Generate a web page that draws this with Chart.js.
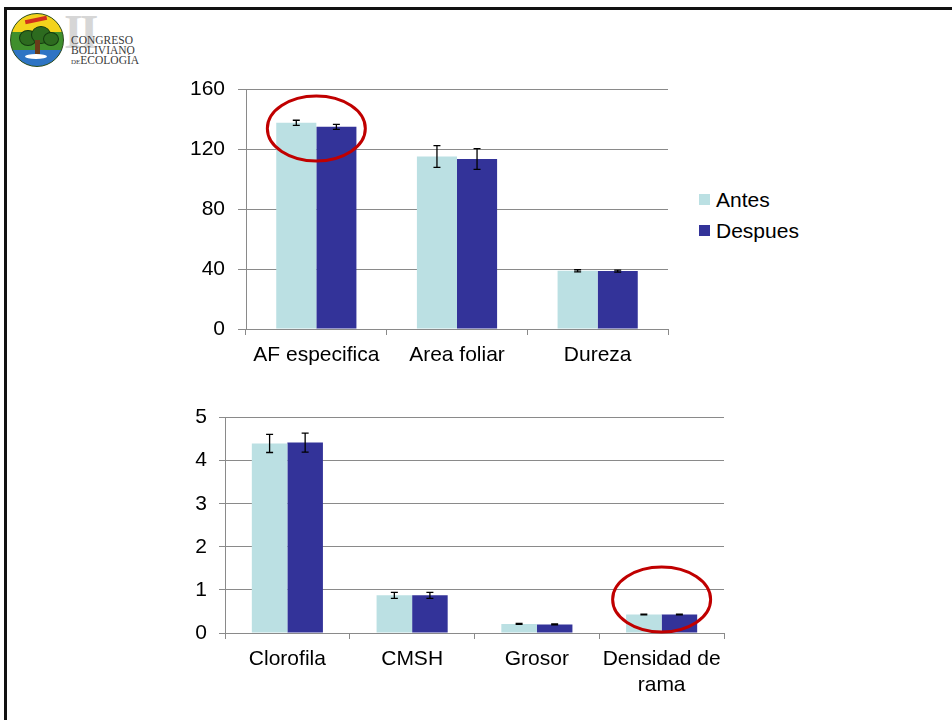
<!DOCTYPE html>
<html>
<head>
<meta charset="utf-8">
<script src="https://cdn.jsdelivr.net/npm/chart.js@4.4.0/dist/chart.umd.min.js"></script>
<style>
    body { margin: 0; background: #fff; font-family: "Liberation Sans", Arial, sans-serif; }
    #page { position: relative; width: 952px; height: 720px; overflow: hidden; }
    #frame { position: absolute; left: 4px; top: 7px; width: 1000px; height: 800px; border-left: 3px solid #111; border-top: 3px solid #111; }
    .box { position: absolute; }
    #legend { position: absolute; left: 699px; top: 184px; font-size: 21px; color: #000; }
    .leg-item { display: flex; align-items: center; height: 31px; }
    .leg-swatch { width: 11px; height: 11px; margin-right: 6px; }
    /* logo */
    #logo { position: absolute; left: 10px; top: 13px; width: 52px; height: 52px; border-radius: 50%; overflow: hidden;
        background: linear-gradient(to bottom, #f3d31c 0, #f3d31c 34%, #3f8f2c 34%, #3f8f2c 70%, #2e74c4 70%); border: 1px solid #2a4a1a; }
    .blob { position: absolute; border-radius: 50%; background: #2d6b1f; border: 1px solid #143a10; }
    #logoII { position: absolute; left: 64px; top: 8px; font-family: "Liberation Serif", serif; font-weight: bold; font-size: 48px; line-height: 48px; color: #d6d6d6; letter-spacing: -3px; }
    .logo-txt { position: absolute; left: 71px; font-family: "Liberation Serif", serif; font-size: 11.5px; color: #3a3a3a; line-height: 10px; }
</style>
</head>
<body>
<div id="page">
    <div id="frame"></div>
    <div id="logoII">II</div>
    <div id="logo">
        <div class="blob" style="left:8px;top:16px;width:16px;height:14px;"></div>
        <div class="blob" style="left:20px;top:12px;width:18px;height:16px;"></div>
        <div class="blob" style="left:32px;top:18px;width:14px;height:12px;"></div>
        <div style="position:absolute;left:24px;top:26px;width:5px;height:14px;background:#6b3b1a;"></div>
        <div style="position:absolute;left:14px;top:40px;width:22px;height:5px;border-radius:50%;background:#fff;"></div>
        <div style="position:absolute;left:14px;top:4px;width:22px;height:4px;background:#d2301c;transform:rotate(-12deg);"></div>
    </div>
    <div class="logo-txt" style="top:35px;">CONGRESO</div>
    <div class="logo-txt" style="top:45px;">BOLIVIANO</div>
    <div class="logo-txt" style="top:55px;"><span style="font-size:7px;">DE</span>ECOLOGÍA</div>

    <div class="box" style="left:160px; top:64px;"><canvas id="topChart" width="520" height="315"></canvas></div>
    <div class="box" style="left:140px; top:393px;"><canvas id="bottomChart" width="596" height="322"></canvas></div>
    <div id="legend"></div>
</div>

<script>
// Top chart data
const topCategories = ['AF especifica', 'Area foliar', 'Dureza'];
const topAntes = [137.8, 115.3, 38.9];
const topDespues = [135.1, 113.6, 38.7];
const topAntesErr = [1.7, 7.3, 0.7];
const topDespuesErr = [1.7, 6.9, 0.7];
const topTicks = [0, 40, 80, 120, 160];

// Bottom chart data
const bottomCategories = ['Clorofila', 'CMSH', 'Grosor', ['Densidad de', 'rama']];
const bottomAntes = [4.40, 0.875, 0.21, 0.43];
const bottomDespues = [4.42, 0.875, 0.20, 0.43];
const bottomAntesErr = [0.21, 0.07, 0.01, 0.01];
const bottomDespuesErr = [0.22, 0.07, 0.01, 0.01];
const bottomTicks = [0, 1, 2, 3, 4, 5];

const seriesNames = ['Antes', 'Despues'];
const seriesColors = ['#bbe0e3', '#333399'];

const FONT = { family: '"Liberation Sans", Arial, sans-serif', size: 21 };
const GRID = '#8a8a8a';

// error bars drawn over the bars
const errorBars = {
    id: 'errorBars',
    afterDatasetsDraw(chart) {
        const ctx = chart.ctx;
        const y = chart.scales.y;
        chart.data.datasets.forEach((ds, i) => {
            const meta = chart.getDatasetMeta(i);
            meta.data.forEach((bar, j) => {
                const v = ds.data[j];
                const e = ds.errors[j];
                const top = y.getPixelForValue(v + e);
                const bot = y.getPixelForValue(v - e);
                ctx.save();
                ctx.strokeStyle = '#000';
                ctx.lineWidth = 1.3;
                ctx.beginPath();
                ctx.moveTo(bar.x, top);
                ctx.lineTo(bar.x, bot);
                ctx.moveTo(bar.x - 3.5, top);
                ctx.lineTo(bar.x + 3.5, top);
                ctx.moveTo(bar.x - 3.5, bot);
                ctx.lineTo(bar.x + 3.5, bot);
                ctx.stroke();
                ctx.restore();
            });
        });
    }
};

// red highlight ellipse, anchored to a category and a value
const highlight = {
    id: 'highlight',
    afterDraw(chart, args, opts) {
        if (opts.index === undefined) return;
        const ctx = chart.ctx;
        const cx = chart.scales.x.getPixelForValue(opts.index) + (opts.dx || 0);
        const cy = chart.scales.y.getPixelForValue(opts.value);
        ctx.save();
        ctx.strokeStyle = '#c00000';
        ctx.lineWidth = 3;
        ctx.beginPath();
        ctx.ellipse(cx, cy, opts.rx, opts.ry, 0, 0, Math.PI * 2);
        ctx.stroke();
        ctx.restore();
    }
};

function makeChart(id, labels, antes, despues, antesErr, despuesErr, ticks, cfg) {
    return new Chart(document.getElementById(id), {
        type: 'bar',
        data: {
            labels: labels,
            datasets: [
                { label: seriesNames[0], data: antes, errors: antesErr, backgroundColor: seriesColors[0] },
                { label: seriesNames[1], data: despues, errors: despuesErr, backgroundColor: seriesColors[1] }
            ]
        },
        options: {
            responsive: false,
            animation: false,
            devicePixelRatio: 1,
            layout: { padding: { top: 14, right: 12, left: 0, bottom: 0 } },
            datasets: { bar: { categoryPercentage: 0.57, barPercentage: 1.0 } },
            plugins: {
                legend: { display: false },
                tooltip: { enabled: false },
                highlight: cfg.highlight
            },
            scales: {
                x: {
                    grid: { display: true, drawOnChartArea: false, drawTicks: true, tickLength: 6, color: GRID, offset: true },
                    border: { color: GRID, width: 1 },
                    ticks: { color: '#000', font: FONT, padding: 8, maxRotation: 0, autoSkip: false },
                    afterFit: (s) => { s.height = cfg.xHeight; }
                },
                y: {
                    min: ticks[0],
                    max: ticks[ticks.length - 1],
                    afterBuildTicks: (s) => { s.ticks = ticks.map(v => ({ value: v })); },
                    grid: { color: GRID, lineWidth: 1, tickLength: cfg.tickLen },
                    border: { color: GRID, width: 1 },
                    ticks: { color: '#000', font: FONT, padding: cfg.tickPad },
                    afterFit: (s) => { s.width = cfg.yWidth; }
                }
            }
        },
        plugins: [errorBars, highlight]
    });
}

makeChart('topChart', topCategories, topAntes, topDespues, topAntesErr, topDespuesErr, topTicks,
    { xHeight: 50, yWidth: 86, tickLen: 8, tickPad: 13, highlight: { index: 0, value: 134, rx: 49, ry: 32.5 } });

makeChart('bottomChart', bottomCategories, bottomAntes, bottomDespues, bottomAntesErr, bottomDespuesErr, bottomTicks,
    { xHeight: 82, yWidth: 85, tickLen: 6, tickPad: 12, highlight: { index: 3, value: 0.78, rx: 49, ry: 32.5 } });

// legend
document.getElementById('legend').innerHTML = seriesNames.map((n, i) => `
    <div class="leg-item"><span class="leg-swatch" style="background:${seriesColors[i]}"></span>${n}</div>
`).join('');
</script>
</body>
</html>
